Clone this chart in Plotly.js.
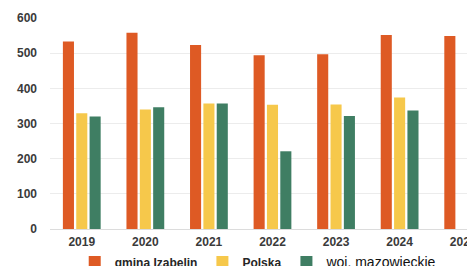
<!DOCTYPE html>
<html><head><meta charset="utf-8">
<script src="https://cdn.plot.ly/plotly-3.0.1.min.js"></script>
<style>html,body{margin:0;padding:0;background:#fff;overflow:hidden}</style>
</head><body><div id="chart" style="width:467px;height:266px"></div>
<script>
var years = ["2019","2020","2021","2022","2023","2024","2025"];
var gminaIzabelin = [533, 558, 523, 494, 497, 552, 549];
var polska = [329, 340, 357, 353, 354, 374, null];
var mazowieckie = [320, 346, 357, 221, 321, 337, null];
var seriesNames = ["gmina Izabelin", "Polska", "woj. mazowieckie"];
var yTicks = [0, 100, 200, 300, 400, 500, 600];

var fontFam = "Liberation Sans, Arial, sans-serif";
var traces = [
  {type:"bar", name:seriesNames[0], x:years, y:gminaIzabelin, marker:{color:"#DE5A24"}},
  {type:"bar", name:seriesNames[1], x:years, y:polska, marker:{color:"#F6C84B"}},
  {type:"bar", name:"<span style='font-size:14px;font-weight:normal;color:#111'>" + seriesNames[2] + "</span>",
   x:years, y:mazowieckie, marker:{color:"#3F7E63"}}
];
var layout = {
  width:467, height:266,
  margin:{l:50, r:0, t:18, b:37, autoexpand:false},
  paper_bgcolor:"#fff", plot_bgcolor:"#fff",
  barmode:"group", bargap:0.37, bargroupgap:0.17,
  showlegend:true,
  legend:{orientation:"h", xref:"container", yref:"container", x:0.16, xanchor:"left", y:0.07, yanchor:"top",
          font:{family:fontFam, size:12, color:"#262626", weight:"bold"},
          itemwidth:30, traceorder:"normal"},
  xaxis:{type:"category", range:[-0.5, 6.06], showgrid:false, zeroline:false, automargin:false,
         showline:false, ticks:"", ticklabelstandoff:4,
         tickfont:{family:fontFam, size:12, color:"#3a3a3a", weight:"bold"}},
  yaxis:{range:[0,600], tickvals:yTicks, ticktext:yTicks.map(String), automargin:false,
         showgrid:true, gridcolor:"#ececec", gridwidth:1, zeroline:true, zerolinecolor:"#dcdcdc",
         showline:false, ticks:"", ticklabelstandoff:12,
         tickfont:{family:fontFam, size:12, color:"#3a3a3a", weight:"bold"}}
};
Plotly.newPlot("chart", traces, layout, {displayModeBar:false, staticPlot:true});
</script></body></html>
